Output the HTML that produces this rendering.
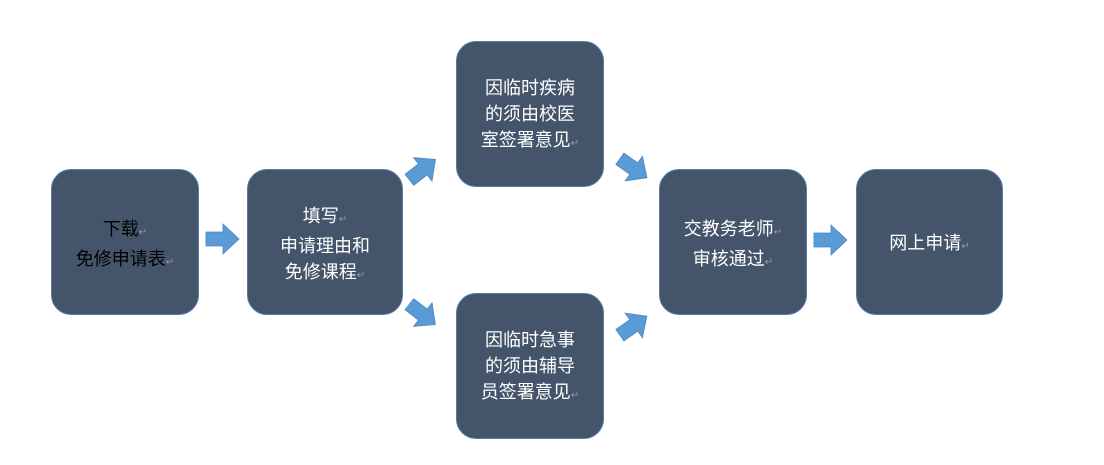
<!DOCTYPE html>
<html><head><meta charset="utf-8"><style>
body{margin:0;width:1104px;height:465px;background:#fff;position:relative;overflow:hidden;font-family:"Liberation Sans","Noto Sans CJK SC",sans-serif}
.b{position:absolute;background:#44546a;border:1px solid #5b7aa0;border-radius:20px;box-sizing:border-box;display:block;text-align:center;color:#fff;font-size:18px;line-height:26px;padding-top:33px}
.r{color:#999;font-size:10px}
svg{position:absolute;left:0;top:0}
</style></head><body>
<svg width="1104" height="465">
<defs><polygon id="a" points="-16,-7 1,-7 1,-15 17,0 1,15 1,7 -16,7" fill="#5b9bd5" stroke="#4a86c0" stroke-width="0.8"/></defs>
<use href="#a" transform="translate(222,239)"/>
<use href="#a" transform="translate(830,240)"/>
<use href="#a" transform="translate(422,170) rotate(-38)"/>
<use href="#a" transform="translate(422,314) rotate(38)"/>
<use href="#a" transform="translate(633,168) rotate(35)"/>
<use href="#a" transform="translate(633,326) rotate(-35)"/>
</svg>
<div class="b" style="left:51px;top:169px;width:148px;height:146px;color:#000;padding-top:46px">下载<span class="r">↵</span><br>免修申请表<span class="r">↵</span></div>
<div class="b" style="left:247px;top:169px;width:156px;height:146px">填写<span class="r">↵</span><br>申请理由和<br>免修课程<span class="r">↵</span></div>
<div class="b" style="left:456px;top:41px;width:148px;height:146px">因临时疾病<br>的须由校医<br>室签署意见<span class="r">↵</span></div>
<div class="b" style="left:456px;top:293px;width:148px;height:146px">因临时急事<br>的须由辅导<br>员签署意见<span class="r">↵</span></div>
<div class="b" style="left:659px;top:169px;width:148px;height:146px;padding-top:46px">交教务老师<span class="r">↵</span><br>审核通过<span class="r">↵</span></div>
<div class="b" style="left:856px;top:169px;width:147px;height:146px;padding-top:60px">网上申请<span class="r">↵</span></div>
</body></html>
